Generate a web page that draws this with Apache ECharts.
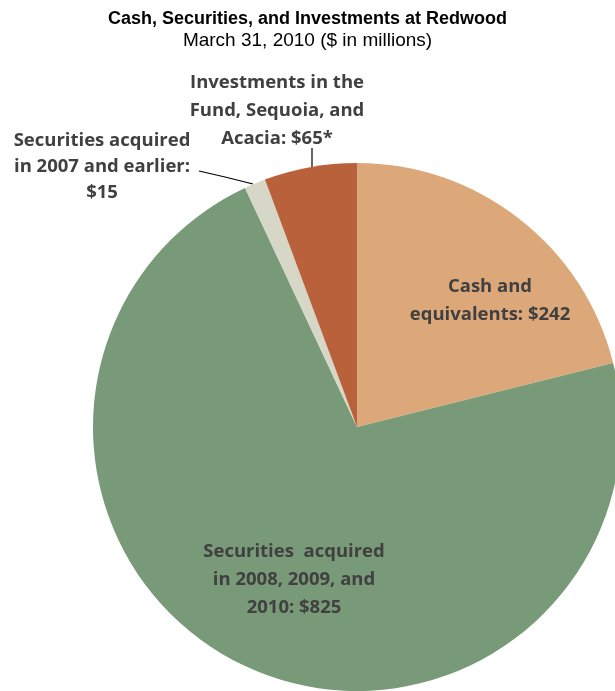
<!DOCTYPE html>
<html>
<head>
<meta charset="utf-8">
<script src="https://cdn.jsdelivr.net/npm/echarts@6/dist/echarts.min.js"></script>
<style>
html,body{margin:0;padding:0;background:#fff;}
#chart{width:615px;height:691px;}
</style>
</head>
<body>
<div id="chart"></div>
<script>
const categories = [
  'Cash and\nequivalents: $242',
  'Securities  acquired\nin 2008, 2009, and\n2010: $825',
  'Securities acquired\nin 2007 and earlier:\n$15',
  'Investments in the\nFund, Sequoia, and\nAcacia: $65*'
];
const values = [242, 825, 15, 65];
const colors = ['#DCA87A', '#789A78', '#D6D7C7', '#B8613A'];

// label anchor positions (layout only)
const labelPos = [
  {x: 490, y: 301, lh: 28},
  {x: 294, y: 580, lh: 28},
  {x: 102, y: 167, lh: 26},
  {x: 277, y: 111, lh: 28}
];

const chart = echarts.init(document.getElementById('chart'), null, {renderer: 'canvas'});
chart.setOption({
  animation: false,
  backgroundColor: '#ffffff',
  title: {
    text: 'Cash, Securities, and Investments at Redwood',
    subtext: 'March 31, 2010 ($ in millions)',
    left: 'center',
    top: 5,
    itemGap: 3,
    textStyle: {fontFamily: 'Liberation Sans, Arial', fontWeight: 'bold', fontSize: 18, color: '#000'},
    subtextStyle: {fontFamily: 'Liberation Sans, Arial', fontSize: 19, color: '#000'}
  },
  series: [{
    type: 'pie',
    center: [357, 427],
    radius: [0, 264],
    startAngle: 90,
    clockwise: true,
    silent: true,
    data: values.map((v, i) => ({
      name: categories[i],
      value: v,
      itemStyle: {color: colors[i]},
      label: {lineHeight: labelPos[i].lh}
    })),
    label: {
      show: true,
      formatter: '{b}',
      position: 'outside',
      alignTo: 'none',
      overflow: 'none',
      edgeDistance: 0,
      bleedMargin: 0,
      fontFamily: 'Open Sans',
      fontWeight: 700,
      fontSize: 18.5,
      lineHeight: 28,
      color: '#404040',
      align: 'center'
    },
    labelLine: {show: true, length: 10, length2: 10, lineStyle: {color: '#000', width: 1.2}},
    labelLayout: function (params) {
      const i = params.dataIndex;
      const p = labelPos[i];
      const res = {x: p.x, y: p.y, align: 'center', verticalAlign: 'middle'};
      if (i === 0 || i === 1) {
        res.labelLinePoints = [[p.x, p.y], [p.x, p.y], [p.x, p.y]];
      } else if (i === 2) {
        res.labelLinePoints = [[253, 184], [225, 177], [199, 171]];
      } else {
        res.labelLinePoints = [[312, 168], [312, 158], [312, 148]];
      }
      return res;
    }
  }]
});
</script>
</body>
</html>
